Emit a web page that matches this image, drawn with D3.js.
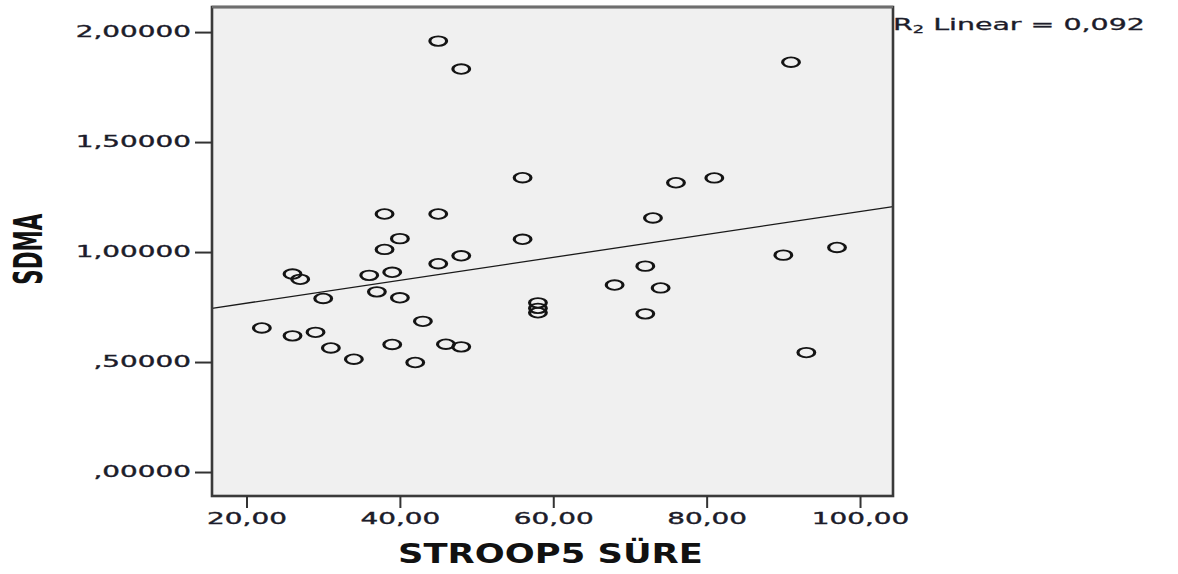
<!DOCTYPE html>
<html>
<head>
<meta charset="utf-8">
<script src="https://cdn.jsdelivr.net/npm/d3@7"></script>
<style>
  html, body { margin: 0; background: #fff; }
  svg { display: block; }
</style>
</head>
<body>
<svg id="chart" width="1178" height="574"></svg>
<script>
// STROOP5 completion time (x) and SDMA (y), one entry per subject
const stroop5 = [22, 26, 26, 27, 29, 30, 31, 34, 36, 37, 38, 38, 39, 39, 40, 40, 42, 43,
                 45, 45, 45, 46, 48, 48, 48, 56, 56, 58, 58, 58, 68, 72, 72, 73, 74, 76,
                 81, 90, 91, 93, 97];
const sdma = [0.655, 0.900, 0.619, 0.876, 0.635, 0.789, 0.564, 0.513, 0.894, 0.819,
              1.173, 1.012, 0.908, 0.580, 1.061, 0.792, 0.498, 0.685, 1.959, 1.173,
              0.947, 0.581, 1.832, 0.983, 0.569, 1.338, 1.058, 0.769, 0.744, 0.724,
              0.850, 0.936, 0.719, 1.155, 0.837, 1.315, 1.337, 0.986, 1.863, 0.543,
              1.021];

const xTicks = [20, 40, 60, 80, 100];
const xTickLabels = ["20,00", "40,00", "60,00", "80,00", "100,00"];
const yTicks = [0, 0.5, 1, 1.5, 2];
const yTickLabels = [",00000", ",50000", "1,00000", "1,50000", "2,00000"];
const xTitle = "STROOP5 SÜRE";
const yTitle = "SDMA";
const fitLabelParts = ["R", "2", " Linear = 0,092"];

const svg = d3.select("#chart");
const plot = { left: 212, right: 893, top: 7, bottom: 496 };
const x = d3.scaleLinear().domain([15.5, 104.3]).range([plot.left, plot.right]);
const y = d3.scaleLinear().domain([-0.109, 2.114]).range([plot.bottom, plot.top]);

const font = "'DejaVu Sans', Verdana, sans-serif";
const ink = "#1c1c2a";
const TICK_SX = 1.86;   // horizontal stretch of the tick label glyphs

// stretch a text horizontally so its box spans `target` pixels
function stretchTo(sel, tx, ty, target) {
  const w = sel.node().getBBox().width;
  sel.attr("transform", `translate(${tx},${ty}) scale(${target / w},1)`);
}

// plot background
svg.append("rect")
  .attr("x", plot.left).attr("y", plot.top)
  .attr("width", plot.right - plot.left).attr("height", plot.bottom - plot.top)
  .attr("fill", "#f0f0f0");

// least-squares fit line
const mx = d3.mean(stroop5), my = d3.mean(sdma);
let sxy = 0, sxx = 0;
stroop5.forEach((v, i) => { sxy += (v - mx) * (sdma[i] - my); sxx += (v - mx) * (v - mx); });
const slope = sxy / sxx, intercept = my - slope * mx;
const [x0, x1] = x.domain();
svg.append("line")
  .attr("x1", x(x0)).attr("y1", y(intercept + slope * x0))
  .attr("x2", x(x1)).attr("y2", y(intercept + slope * x1))
  .attr("stroke", "#1a1a1a").attr("stroke-width", 1.3);

// scatter markers
svg.append("g")
  .selectAll("circle")
  .data(d3.zip(stroop5, sdma))
  .join("circle")
  .attr("r", 4.8)
  .attr("transform", d => `translate(${x(d[0])},${y(d[1])}) scale(1.75,1)`)
  .attr("fill", "none")
  .attr("stroke", "#141414")
  .attr("stroke-width", 1.8);

// frame
svg.append("rect")
  .attr("x", plot.left).attr("y", plot.top)
  .attr("width", plot.right - plot.left).attr("height", plot.bottom - plot.top)
  .attr("fill", "none").attr("stroke", "#3a3a3a").attr("stroke-width", 2.6);
svg.append("line")
  .attr("x1", plot.left).attr("x2", plot.right)
  .attr("y1", plot.top).attr("y2", plot.top)
  .attr("stroke", "#6e6e6e").attr("stroke-width", 2.4);

// y axis
const yAxis = svg.append("g")
  .attr("transform", `translate(${plot.left},0)`)
  .call(d3.axisLeft(y).tickValues(yTicks).tickSize(17).tickPadding(0)
        .tickFormat((d, i) => yTickLabels[i]));
yAxis.select(".domain").remove();
yAxis.selectAll(".tick line").attr("stroke", "#333").attr("stroke-width", 2);
yAxis.selectAll(".tick text")
  .attr("x", null)
  .attr("transform", `translate(-21,0) scale(${TICK_SX},1)`)
  .attr("font-size", 15).attr("font-family", font).attr("fill", ink)
  .attr("stroke", ink).attr("stroke-width", 0.35);

// x axis
const xAxis = svg.append("g")
  .attr("transform", `translate(0,${plot.bottom})`)
  .call(d3.axisBottom(x).tickValues(xTicks).tickSize(12).tickPadding(5)
        .tickFormat((d, i) => xTickLabels[i]));
xAxis.select(".domain").remove();
xAxis.selectAll(".tick line").attr("stroke", "#333").attr("stroke-width", 2);
xAxis.selectAll(".tick text")
  .attr("transform", `scale(${TICK_SX},1)`)
  .attr("font-size", 15).attr("font-family", font).attr("fill", ink)
  .attr("stroke", ink).attr("stroke-width", 0.35);

// axis titles
const xt = svg.append("text")
  .attr("text-anchor", "middle")
  .attr("font-family", font).attr("font-weight", "bold").attr("font-size", 26)
  .attr("fill", "#111")
  .text(xTitle);
stretchTo(xt, 550.5, 563, 305);

const yt = svg.append("text")
  .attr("text-anchor", "middle")
  .attr("font-family", font).attr("font-weight", "bold").attr("font-size", 21)
  .attr("fill", "#111")
  .text(yTitle);
{
  const w = yt.node().getBBox().width;
  yt.attr("transform", `translate(41.5,249.2) rotate(-90) scale(${72 / w},1.85)`);
}

// fit statistic label
const fl = svg.append("text")
  .attr("font-family", font).attr("font-size", 16).attr("fill", ink)
  .attr("stroke", ink).attr("stroke-width", 0.3);
fl.append("tspan").text(fitLabelParts[0]);
fl.append("tspan").attr("font-size", 10).attr("dy", 3).text(fitLabelParts[1]);
fl.append("tspan").attr("dy", -3).text(fitLabelParts[2]);
stretchTo(fl, 893, 29.5, 252);
</script>
</body>
</html>
